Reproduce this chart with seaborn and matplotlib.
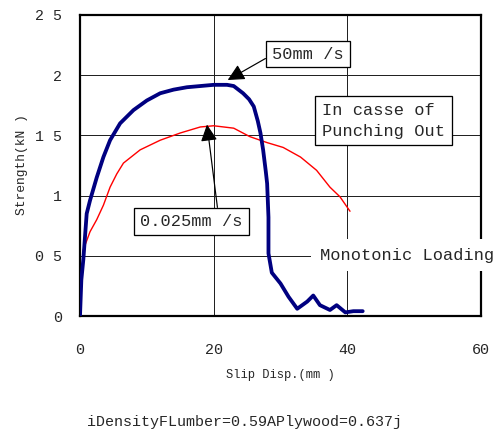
import matplotlib
matplotlib.use("Agg")
import matplotlib.pyplot as plt
import seaborn as sns
import pandas as pd

# ---- data ----
fast_x = [0, 0.2, 0.5, 1.0, 1.5, 2.5, 3.5, 4.5, 6, 8, 10, 12, 14, 16, 18, 20, 22, 23,
          24.4, 25.3, 26, 26.6, 27, 27.4, 27.8, 28, 28.2, 28.2, 28.7, 30, 31.2, 32.5,
          34, 34.9, 35.9, 37.4, 38.4, 39.7, 40.9, 42.3]
fast_y = [0, 0.3, 0.47, 0.85, 0.96, 1.15, 1.32, 1.46, 1.6, 1.71, 1.79, 1.85, 1.88, 1.9,
          1.91, 1.92, 1.92, 1.91, 1.85, 1.8, 1.74, 1.62, 1.52, 1.38, 1.2, 1.10, 0.82,
          0.52, 0.36, 0.27, 0.16, 0.06, 0.12, 0.17, 0.09, 0.05, 0.09, 0.03, 0.04, 0.04]
slow_x = [0, 0.2, 0.5, 1.5, 2.5, 3.5, 4.5, 5.5, 6.5, 9, 12, 15, 18, 20, 23, 25.4, 28,
          30.4, 33, 35.4, 37.4, 38.9, 40.4]
slow_y = [0, 0.3, 0.55, 0.7, 0.8, 0.92, 1.07, 1.18, 1.27, 1.38, 1.46, 1.52, 1.57, 1.58,
          1.56, 1.49, 1.44, 1.40, 1.32, 1.21, 1.07, 0.99, 0.87]
x_ticks = [0, 20, 40, 60]
y_ticks = [0, 0.5, 1, 1.5, 2, 2.5]
y_tick_labels = ["0", "0 5", "1", "1 5", "2", "2 5"]

sns.set_style("white")
FONT = ["Liberation Mono", "DejaVu Sans Mono"]
plt.rcParams["font.family"] = FONT

fig = plt.figure(figsize=(7, 6), dpi=72)
ax = fig.add_axes([80 / 504, 116 / 432, 401 / 504, 301 / 432])

df_fast = pd.DataFrame({"x": fast_x, "y": fast_y})
df_slow = pd.DataFrame({"x": slow_x, "y": slow_y})
sns.lineplot(data=df_slow, x="x", y="y", sort=False, estimator=None, ax=ax,
             color="#ff0000", lw=1.4, zorder=3)
sns.lineplot(data=df_fast, x="x", y="y", sort=False, estimator=None, ax=ax,
             color="#000080", lw=3.8, zorder=4)

ax.set_xlim(0, 60)
ax.set_ylim(0, 2.5)
ax.set_xticks(x_ticks)
ax.set_yticks(y_ticks)
ax.set_yticklabels(y_tick_labels)
ax.tick_params(axis="both", length=0, labelsize=15)
ax.tick_params(axis="y", pad=18)
ax.tick_params(axis="x", pad=27)
ax.grid(True, color="#222222", lw=1)
for s in ax.spines.values():
    s.set_color("black")
    s.set_linewidth(2.2)
    s.set_visible(True)
ax.set_xlabel("")
ax.set_ylabel("")

fig.text(280 / 504, 1 - 375 / 432, "Slip Disp.(mm )", ha="center", va="center", fontsize=12)
fig.text(22 / 504, 1 - 165 / 432, "Strength(kN )", ha="center", va="center",
         rotation=90, fontsize=13)
fig.text(245 / 504, 1 - 422 / 432, "iDensityFLumber=0.59APlywood=0.637j",
         ha="center", va="center", fontsize=15)

box = dict(boxstyle="square,pad=0.35", fc="white", ec="black", lw=1.3)
arrow_base = dict(arrowstyle="-|>,head_length=0.7,head_width=0.35", color="black",
                  lw=1.2, mutation_scale=20, shrinkA=0, shrinkB=0)

ax.annotate("50mm /s", xy=(22.1, 1.96), xytext=(34.1, 2.176), textcoords="data",
            ha="center", va="center", fontsize=17, bbox=box,
            arrowprops=dict(arrow_base, relpos=(0, 0.45)), zorder=6)
ax.annotate("0.025mm /s", xy=(19.0, 1.59), xytext=(16.7, 0.785), textcoords="data",
            ha="center", va="center", fontsize=17, bbox=box,
            arrowprops=dict(arrow_base, relpos=(0.76, 1.0)), zorder=6)
ax.text(36.2, 1.62, "In casse of\nPunching Out", ha="left", va="center", fontsize=17,
        linespacing=1.45, bbox=dict(boxstyle="square,pad=0.4", fc="white", ec="black", lw=1.3),
        zorder=6)
ax.text(35.9, 0.505, "Monotonic Loading", ha="left", va="center", fontsize=17,
        bbox=dict(boxstyle="square,pad=0.5", fc="white", ec="none"), zorder=7, clip_on=False)

fig.savefig("out.png", dpi=72)
